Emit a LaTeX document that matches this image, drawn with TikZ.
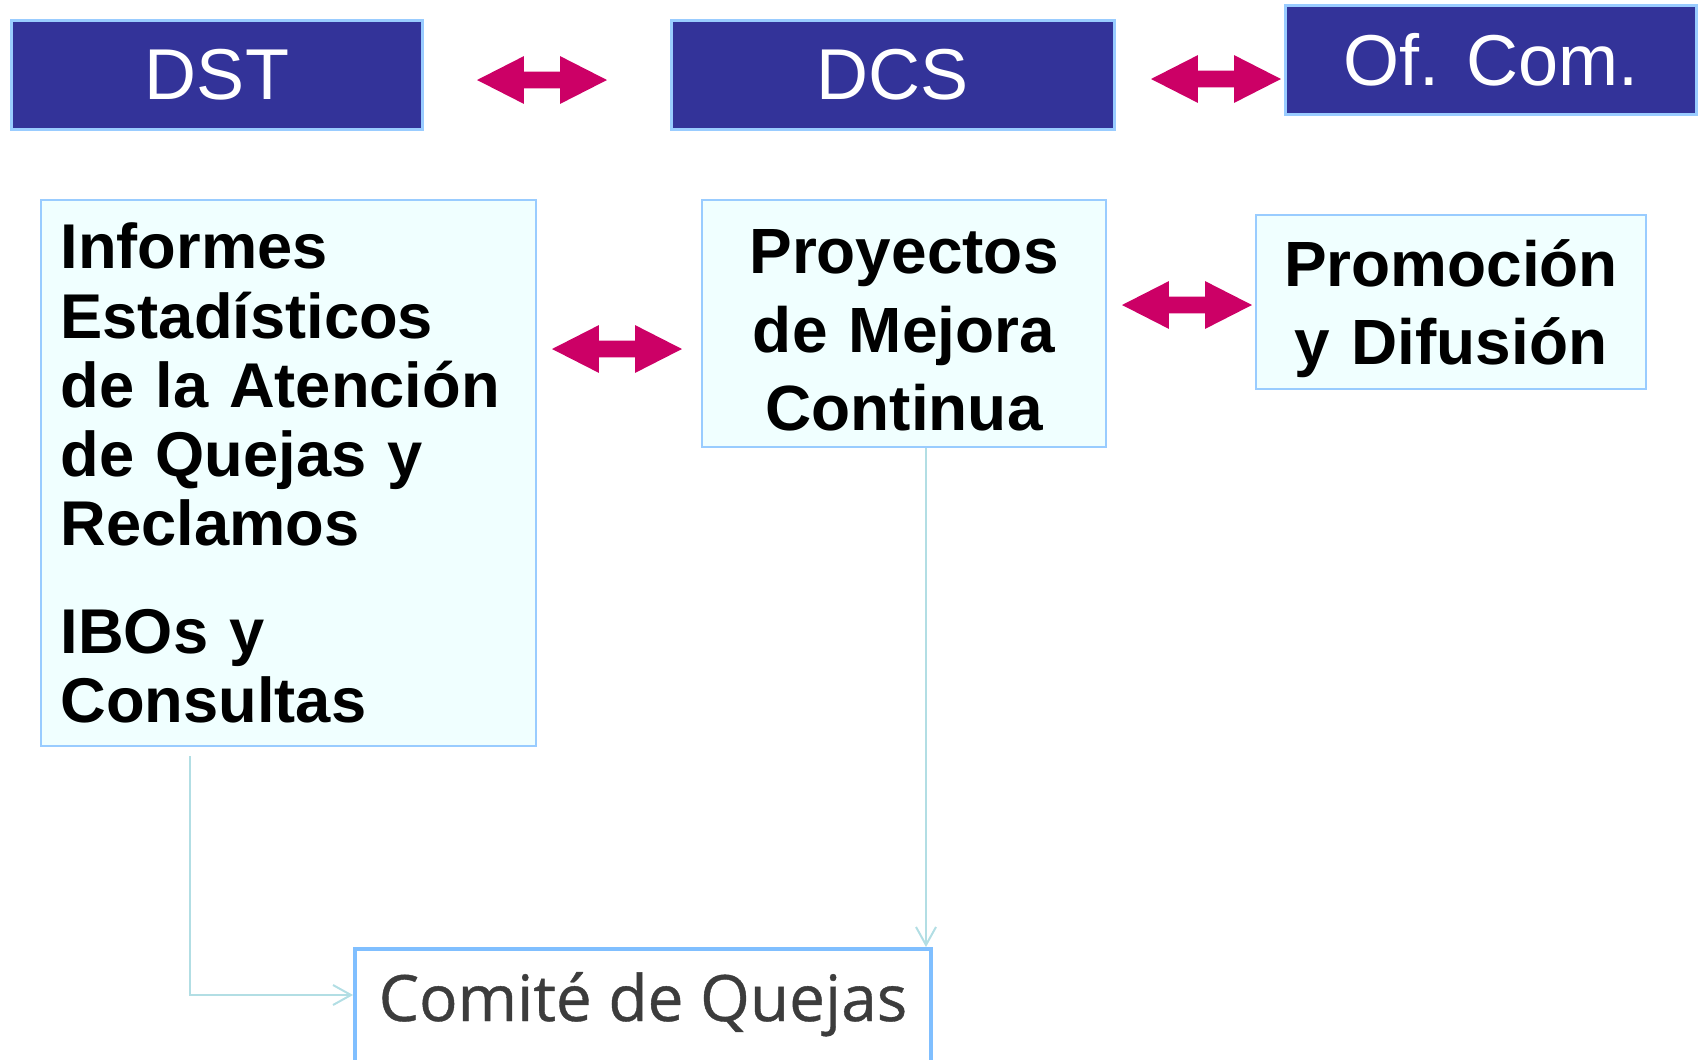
\documentclass[tikz,border=0pt]{standalone}
\usepackage{fontspec}
\setmainfont{Liberation Sans}
\newfontfamily\comfont[FakeBold=0.6]{Open Sans}
\usepackage{tikz}
\usetikzlibrary{calc,shapes.arrows,arrows.meta}

\definecolor{hdrblue}{HTML}{333399}
\definecolor{edgeblue}{HTML}{99CCFF}
\definecolor{boxfill}{HTML}{F0FFFF}
\definecolor{magarrow}{HTML}{CC0066}
\definecolor{connline}{RGB}{178,222,228}
\definecolor{comgray}{HTML}{3C3C3C}
\definecolor{comedge}{HTML}{80BFFF}

\begin{document}
\begin{tikzpicture}[
                x=0.02cm, y=-0.02cm,
                hdr/.style={rectangle,draw=edgeblue,line width=0.06cm,fill=hdrblue,text=white,
                    inner sep=0pt,minimum height=2.2cm,minimum width=8.24cm,
                    font=\fontsize{41pt}{49pt}\selectfont},
                infobox/.style={rectangle,draw=edgeblue,line width=0.05cm,fill=boxfill,
                    inner sep=0pt,font=\fontsize{36pt}{39.3pt}\selectfont\bfseries},
                dbl/.style={double arrow,fill=magarrow,draw=none,inner xsep=0pt,inner ysep=0.16cm,
                    minimum height=2.6cm,double arrow head extend=0.31cm,double arrow tip angle=54},
                conn/.style={draw=connline,line width=0.04cm,-{Straight Barb[length=0.36cm,width=0.4cm]}}
            ]
                \useasboundingbox (0,0) rectangle (1698,1059);

                % top row
                \node[hdr] (dst) at (217,75) {DST};
                \node[hdr,minimum width=8.88cm] (dcs) at (893,75) {DCS};
                \node[hdr] (ofcom) at (1491,60) {Of. Com.};

                \node[dbl] (a1) at (542,80) {};
                \node[dbl] (a2) at (1216,79) {};

                % second row
                \node[infobox,minimum width=9.9cm,minimum height=10.92cm,text width=9.12cm,align=left]
                    (inf) at (288.5,473) {Informes\\ Estadísticos\\ de la Atención\\ de Quejas y\\ Reclamos\\[0.78cm] IBOs y\\ Consultas};
                \node[infobox,minimum width=8.08cm,minimum height=4.94cm,text width=7.6cm,align=center,
                    font=\fontsize{36.4pt}{44.6pt}\selectfont\bfseries]
                    (proy) at (904,323.5) {\rule{0pt}{1.16cm}Proyectos\\ de Mejora\\ Continua};
                \node[infobox,minimum width=7.8cm,minimum height=3.48cm,text width=7.4cm,align=center,
                    font=\fontsize{36.4pt}{44.4pt}\selectfont\bfseries]
                    (prom) at (1451,302) {\rule{0pt}{1.2cm}Promoción\\ y Difusión};

                \node[dbl] (a3) at (617,349) {};
                \node[dbl] (a4) at (1187,305) {};

                % bottom
                \node[rectangle,draw=comedge,line width=0.08cm,fill=white,inner sep=0pt,
                    minimum width=11.52cm,text height=1.44cm,text depth=0.98cm,text=comgray,
                    font=\comfont\fontsize{36.4pt}{43pt}\selectfont]
                    (com) at (643,1009.5) {Comité de Quejas};

                \draw[conn] ([xshift=3cm,yshift=-0.18cm]inf.south west) |- ([yshift=0.29cm]com.west);
                \draw[conn] ([xshift=0.44cm]proy.south) -- ([xshift=0.44cm]proy.south |- com.north);
            \end{tikzpicture}
\end{document}
